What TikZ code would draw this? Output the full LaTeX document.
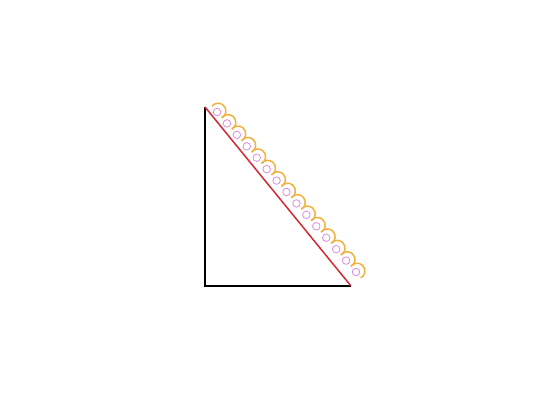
\documentclass[tikz,border=0pt]{standalone}
\usetikzlibrary{calc}
\definecolor{tri}{HTML}{D42A35}
\definecolor{scal}{HTML}{F2B13E}
\definecolor{ring}{HTML}{DC8CDC}
\tikzset{
  leg/.style={draw=black,line width=1.5pt},
  hyp/.style={draw=tri,line width=1.5pt},
  scallop/.style={draw=scal,line width=1.5pt},
  ringnode/.style={circle,draw=ring,line width=0.8pt,minimum size=7.5pt,inner sep=0pt}
}
\begin{document}
\begin{tikzpicture}[x=1pt,y=-1pt]
\useasboundingbox (0,0) rectangle (560,420);
\coordinate (A) at (205,107);
\coordinate (B) at (205,286);
\coordinate (C) at (351,286);
\draw[leg] (A) -- (B) -- (C);
\draw[hyp] (A) -- (C);
\foreach \i in {0,...,14}{
  \pgfmathsetmacro{\cx}{217+\i*139/14}
  \pgfmathsetmacro{\cy}{112+\i*160/14}
  \node[ringnode] (c\i) at (\cx,\cy) {};
  \draw[scallop] ($(c\i.center)+(0.755*1.5,-0.656*1.5)+(-141:7.8)$) arc[start angle=-141,end angle=62,radius=7.8];
}
\end{tikzpicture}
\end{document}
